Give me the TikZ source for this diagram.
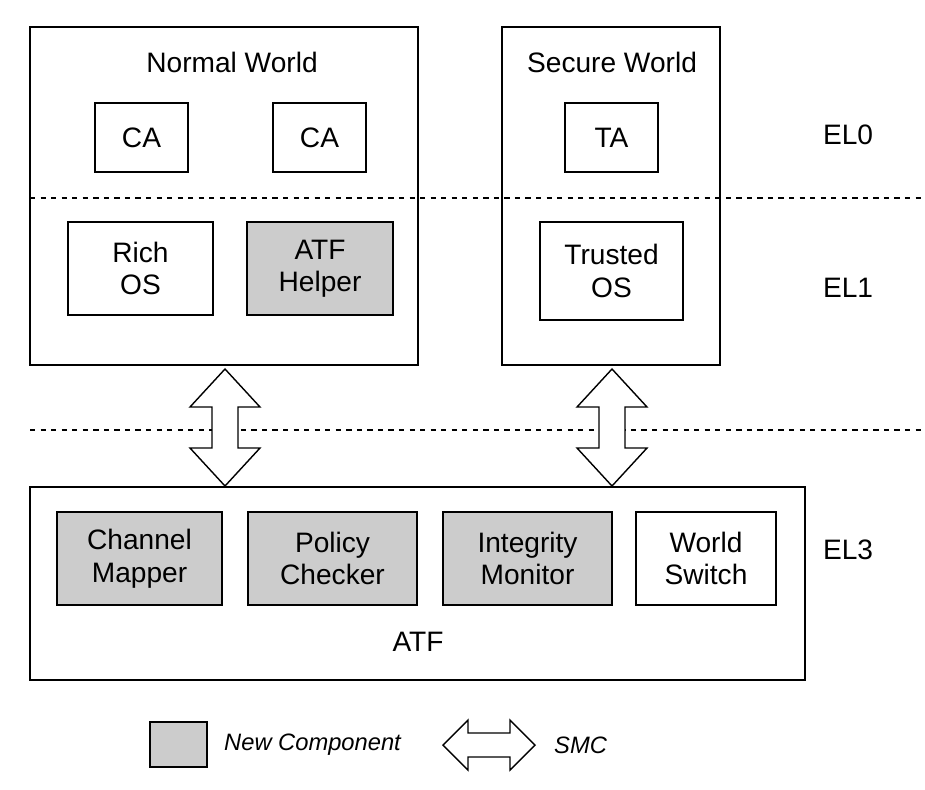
\documentclass[tikz,border=0pt]{standalone}
\usepackage{fontspec}
\setmainfont{Liberation Sans}
\usetikzlibrary{calc}
\tikzset{
  box/.style={draw, line width=0.8pt, fill=white},
  newbox/.style={draw, line width=0.8pt, fill=black!20},
  lbl/.style={font=\fontsize{16}{18.5}\selectfont},
  note/.style={anchor=west, font=\fontsize{13.5}{16}\selectfont\itshape},
  sep/.style={dashed, line width=0.8pt},
}
\newcommand{\vsmc}[3]{% x, top, bottom
  \draw[line width=0.8pt, fill=white] (#1,#2) -- (#1+35,#2+38) -- (#1+13,#2+38) -- (#1+13,#3-38)
    -- (#1+35,#3-38) -- (#1,#3) -- (#1-35,#3-38) -- (#1-13,#3-38) -- (#1-13,#2+38)
    -- (#1-35,#2+38) -- cycle;}
\begin{document}
\begin{tikzpicture}[x=0.02cm, y=-0.02cm, lbl]
  \useasboundingbox (0,0) rectangle (925,789);
  % worlds
  \draw[box] (30,27) rectangle (418,365);
  \node at (232,62) {Normal World};
  \draw[box] (502,27) rectangle (720,365);
  \node at (612,62) {Secure World};
  % EL0
  \draw[box] (95,103) rectangle node (ca1) {CA} (188,172);
  \draw[box] (273,103) rectangle node (ca2) {CA} (366,172);
  \draw[box] (565,103) rectangle node (ta) {TA} (658,172);
  % EL1
  \draw[box] (68,222) rectangle node[align=center] (rich) {Rich\\OS} (213,315);
  \draw[newbox] (247,222) rectangle node[align=center] (helper) {ATF\\Helper} (393,315);
  \draw[box] (540,222) rectangle node[align=center] (tos) {Trusted\\OS} (683,320);
  % separators
  \draw[sep] (30,198) -- (925,198);
  \draw[sep] (30,430) -- (925,430);
  % EL3
  \draw[box] (30,487) rectangle (805,680);
  \node at (418,642) {ATF};
  \draw[newbox] (57,512) rectangle node[align=center] (mapper) {Channel\\Mapper} (222,605);
  \draw[newbox] (248,512) rectangle node[align=center] (checker) {Policy\\Checker} (417,605);
  \draw[newbox] (443,512) rectangle node[align=center] (monitor) {Integrity\\Monitor} (612,605);
  \draw[box] (636,512) rectangle node[align=center] (switch) {World\\Switch} (776,605);
  % levels
  \node at (848,135) {EL0};
  \node at (848,288) {EL1};
  \node at (848,550) {EL3};
  % SMC
  \vsmc{225}{369}{486}
  \vsmc{612}{369}{486}
  % legend
  \draw[newbox] (150,722) rectangle (207,767);
  \node[note] at (218,745) {New Component};
  \draw[line width=0.8pt, fill=white] (443,745) -- ++(25,-25) -- ++(0,13) -- ++(42,0) -- ++(0,-13)
    -- ++(25,25) -- ++(-25,25) -- ++(0,-13) -- ++(-42,0) -- ++(0,13) -- cycle;
  \node[note] at (548,745) {SMC};
\end{tikzpicture}
\end{document}
